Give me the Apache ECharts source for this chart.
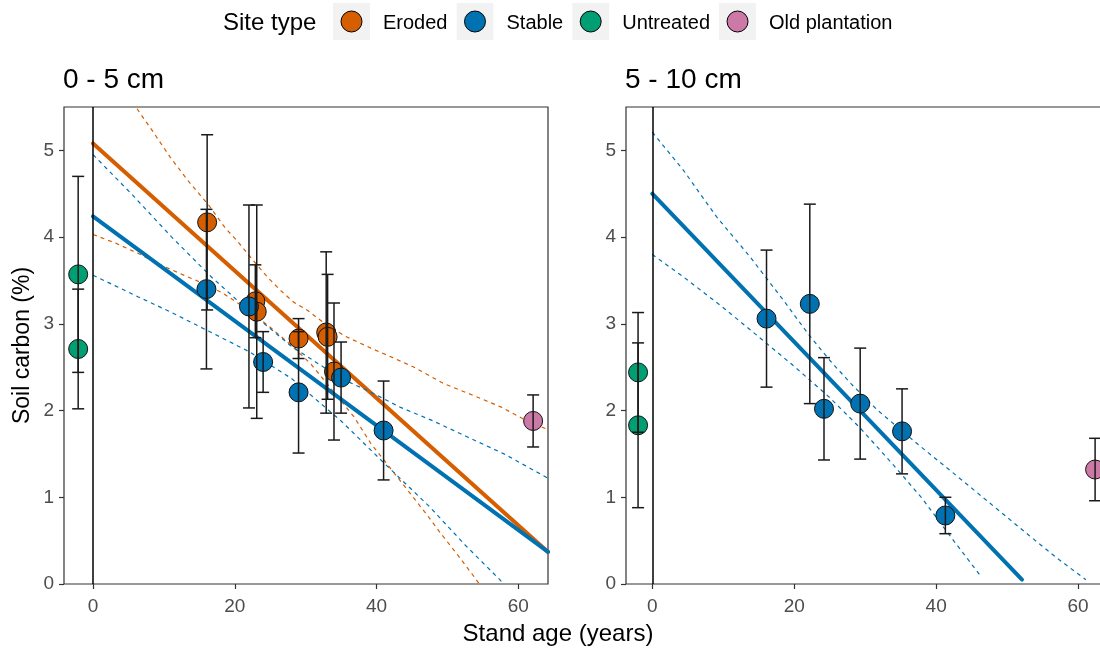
<!DOCTYPE html>
<html>
<head>
<meta charset="utf-8">
<script src="https://cdn.jsdelivr.net/npm/echarts@6/dist/echarts.min.js"></script>
<style>
  html, body { margin: 0; padding: 0; background: #ffffff; }
  #chart { width: 1100px; height: 648px; }
</style>
</head>
<body>
<div id="chart"></div>
<script>
const FONT = '"Liberation Sans", Arial, sans-serif';

const siteTypes = ['Eroded', 'Stable', 'Untreated', 'Old plantation'];
const siteColors = ['#D55E00', '#0072B2', '#009E73', '#CC79A7'];
const panelTitles = ['0 - 5 cm', '5 - 10 cm'];
const xTicks = [0, 20, 40, 60];
const yTicks = [0, 1, 2, 3, 4, 5];

// 0 - 5 cm depth: [stand age, soil carbon, error]
const shallowEroded = [[16.1, 4.17, 1.01], [22.9, 3.26, 0.42], [23.1, 3.14, 1.23], [29.0, 2.83, 0.23],
                       [32.9, 2.90, 0.93], [33.1, 2.85, 0.72], [34.0, 2.45, 0.79]];
const shallowStable = [[16.0, 3.40, 0.92], [22.0, 3.20, 1.17], [24.0, 2.56, 0.35], [29.0, 2.21, 0.70],
                       [35.0, 2.38, 0.41], [41.0, 1.77, 0.57]];
const shallowUntreated = [[-2.1, 3.57, 1.13], [-2.1, 2.71, 0.69]];
const shallowOld = [[62.1, 1.88, 0.30]];

// 0 - 5 cm regressions: fitted line and confidence band edges
const shallowErodedFit = [[0, 5.08], [64.2, 0.37]];
const shallowErodedUpper = [[6.2, 5.48], [8.5, 5.21], [10.9, 4.92], [13.4, 4.65], [16.3, 4.37], [18.7, 4.10],
  [20.3, 3.96], [22.5, 3.74], [24.6, 3.54], [26.4, 3.39], [28.3, 3.25], [30.2, 3.16], [32.1, 3.04],
  [35.5, 2.86], [39.2, 2.72], [42.3, 2.61], [45.3, 2.50], [49.5, 2.31], [53.5, 2.18], [57.6, 2.04],
  [61.0, 1.89], [64.2, 1.78]];
const shallowErodedLower = [[0, 4.03], [3.2, 3.93], [6.4, 3.81], [9.8, 3.67], [13.4, 3.54], [16.0, 3.45],
  [18.4, 3.35], [21.5, 3.18], [25.0, 2.96], [28.0, 2.75], [30.7, 2.54], [33.8, 2.23], [36.8, 1.93],
  [39.2, 1.62], [42.0, 1.33], [44.8, 1.04], [47.0, 0.81], [49.1, 0.58], [51.5, 0.33], [53.8, 0.08], [54.5, 0.0]];
const shallowStableFit = [[0, 4.24], [64.2, 0.37]];
const shallowStableUpper = [[0, 4.95], [5.4, 4.50], [11.1, 4.00], [16.7, 3.54], [22.0, 3.15], [28.0, 2.74],
  [35.0, 2.37], [39.0, 2.22], [43.3, 2.04], [48.0, 1.88], [52.7, 1.70], [58.0, 1.50], [64.2, 1.22]];
const shallowStableLower = [[0, 3.56], [6.4, 3.31], [11.1, 3.13], [17.9, 2.85], [22.0, 2.68], [28.0, 2.37],
  [35.0, 1.88], [41.0, 1.40], [47.5, 0.89], [52.5, 0.45], [57.4, 0.05], [57.9, 0.0]];

// 5 - 10 cm depth: [stand age, soil carbon, error]
const deepStable = [[16.1, 3.06, 0.79], [22.2, 3.23, 1.15], [24.2, 2.02, 0.59], [29.3, 2.08, 0.64],
                    [35.2, 1.76, 0.49], [41.3, 0.79, 0.21]];
const deepUntreated = [[-2.0, 2.44, 0.69], [-2.0, 1.83, 0.95]];
const deepOld = [[62.4, 1.32, 0.36]];

// 5 - 10 cm regression
const deepStableFit = [[0, 4.50], [52.1, 0.05]];
const deepStableUpper = [[0, 5.21], [4.4, 4.77], [9.1, 4.23], [13.8, 3.77], [18.5, 3.27], [22.0, 2.88],
  [25.0, 2.58], [28.0, 2.31], [31.8, 2.00], [37.0, 1.64], [43.6, 1.20], [48.5, 0.87], [53.1, 0.56],
  [57.0, 0.30], [61.1, 0.05]];
const deepStableLower = [[0, 3.80], [4.4, 3.54], [9.8, 3.20], [15.0, 2.85], [20.0, 2.51], [25.0, 2.15],
  [29.4, 1.79], [34.0, 1.37], [38.0, 0.99], [42.0, 0.55], [46.2, 0.10]];

const panels = [
  { groups: [shallowEroded, shallowStable, shallowUntreated, shallowOld],
    fits: [
      { color: siteColors[0], fit: shallowErodedFit, upper: shallowErodedUpper, lower: shallowErodedLower },
      { color: siteColors[1], fit: shallowStableFit, upper: shallowStableUpper, lower: shallowStableLower }
    ] },
  { groups: [[], deepStable, deepUntreated, deepOld],
    fits: [
      { color: siteColors[1], fit: deepStableFit, upper: deepStableUpper, lower: deepStableLower }
    ] }
];

const gridBoxes = [
  { left: 64, top: 107, width: 484, height: 477, xMin: -4.1, xMax: 64.2 },
  { left: 626, top: 107, width: 484, height: 477, xMin: -3.7, xMax: 64.5 }
];

// legend key: light grey square with the site colour dot; transparent margin spaces the label
function legendIcon(color) {
  const svg = '<svg xmlns="http://www.w3.org/2000/svg" width="45" height="41" viewBox="0 0 45 41">' +
    '<rect x="0" y="0" width="37" height="37" fill="#f2f2f2"/>' +
    '<circle cx="18.5" cy="18.5" r="10.5" fill="' + color + '" stroke="#000" stroke-width="1"/></svg>';
  return 'image://data:image/svg+xml;charset=utf-8,' + encodeURIComponent(svg);
}

function errorBarRender(params, api) {
  const x = api.value(0), lo = api.value(1), hi = api.value(2);
  const a = api.coord([x, hi]);
  const b = api.coord([x, lo]);
  const hw = 6;
  const st = { stroke: '#1a1a1a', lineWidth: 1.5 };
  return {
    type: 'group',
    children: [
      { type: 'line', shape: { x1: a[0], y1: a[1], x2: b[0], y2: b[1] }, style: st },
      { type: 'line', shape: { x1: a[0] - hw, y1: a[1], x2: a[0] + hw, y2: a[1] }, style: st },
      { type: 'line', shape: { x1: b[0] - hw, y1: b[1], x2: b[0] + hw, y2: b[1] }, style: st }
    ]
  };
}

const grids = [], xAxes = [], yAxes = [], series = [];

gridBoxes.forEach((g, p) => {
  grids.push({ left: g.left, top: g.top, width: g.width, height: g.height, show: true,
               outerBoundsMode: 'none', containLabel: false,
               borderColor: '#333333', borderWidth: 1.2, backgroundColor: 'transparent' });
  xAxes.push({
    type: 'value', gridIndex: p, min: g.xMin, max: g.xMax,
    axisLine: { show: false, onZero: false },
    axisTick: { show: true, length: 5, customValues: xTicks, lineStyle: { color: '#333333', width: 1.2 } },
    axisLabel: { customValues: xTicks, color: '#4D4D4D', fontSize: 19, fontFamily: FONT, margin: 13 },
    splitLine: { show: false }
  });
  yAxes.push({
    type: 'value', gridIndex: p, min: 0, max: 5.5,
    axisLine: { show: false, onZero: false },
    axisTick: { show: true, length: 5, customValues: yTicks, lineStyle: { color: '#333333', width: 1.2 } },
    axisLabel: { customValues: yTicks, color: '#4D4D4D', fontSize: 19, fontFamily: FONT, margin: 10 },
    splitLine: { show: false },
    name: p === 0 ? 'Soil carbon (%)' : '',
    nameLocation: 'middle', nameRotate: 90, nameGap: 30,
    nameTextStyle: { color: '#000', fontSize: 23, fontFamily: FONT }
  });

  const panel = panels[p];

  // vertical reference line at stand age 0
  series.push({
    type: 'line', xAxisIndex: p, yAxisIndex: p, data: [], silent: true, z: 1,
    markLine: {
      silent: true, symbol: ['none', 'none'], label: { show: false },
      lineStyle: { color: '#000', width: 1.5, type: 'solid' },
      data: [{ xAxis: 0 }]
    }
  });

  // regression lines and confidence band edges
  panel.fits.forEach(f => {
    [f.upper, f.lower].forEach(band => {
      series.push({
        type: 'line', xAxisIndex: p, yAxisIndex: p, data: band, symbol: 'none', silent: true,
        clip: true, z: 2, lineStyle: { color: f.color, width: 1.2, type: [4, 4] }
      });
    });
    series.push({
      type: 'line', xAxisIndex: p, yAxisIndex: p, data: f.fit, symbol: 'none', silent: true,
      clip: true, z: 2, lineStyle: { color: f.color, width: 4, cap: 'round' }
    });
  });

  // site points
  panel.groups.forEach((grp, i) => {
    series.push({
      type: 'scatter', name: siteTypes[i], xAxisIndex: p, yAxisIndex: p, z: 3,
      data: grp.map(d => [d[0], d[1]]),
      symbol: 'circle', symbolSize: 19,
      itemStyle: { color: siteColors[i], borderColor: '#111111', borderWidth: 1, opacity: 1 }
    });
  });

  // error bars
  const bars = [];
  panel.groups.forEach(grp => grp.forEach(d => bars.push([d[0], d[1] - d[2], d[1] + d[2]])));
  series.push({
    type: 'custom', xAxisIndex: p, yAxisIndex: p, z: 4, silent: true,
    renderItem: errorBarRender, encode: { x: 0, y: [1, 2] }, data: bars
  });
});

const chart = echarts.init(document.getElementById('chart'), null, { renderer: 'canvas' });
chart.setOption({
  animation: false,
  backgroundColor: '#ffffff',
  textStyle: { fontFamily: FONT },
  title: panelTitles.map((t, p) => ({
    text: t, left: gridBoxes[p].left - 1, top: 66, padding: 0,
    textStyle: { fontSize: 28, fontWeight: 'normal', color: '#000', fontFamily: FONT }
  })),
  legend: {
    left: 333, top: 3, orient: 'horizontal', padding: 0,
    itemWidth: 45, itemHeight: 41, itemGap: 9,
    selectedMode: false,
    textStyle: { fontSize: 20, color: '#000', fontFamily: FONT },
    data: siteTypes.map((n, i) => ({ name: n, icon: legendIcon(siteColors[i]) }))
  },
  graphic: [
    { type: 'text', x: 223, y: 23, style: { text: 'Site type', fontSize: 24, fill: '#000',
      fontFamily: FONT, verticalAlign: 'middle', align: 'left' } },
    { type: 'text', x: 558, y: 634, style: { text: 'Stand age (years)', fontSize: 24, fill: '#000',
      fontFamily: FONT, verticalAlign: 'middle', align: 'center' } }
  ],
  grid: grids,
  xAxis: xAxes,
  yAxis: yAxes,
  series: series
});
</script>
</body>
</html>
